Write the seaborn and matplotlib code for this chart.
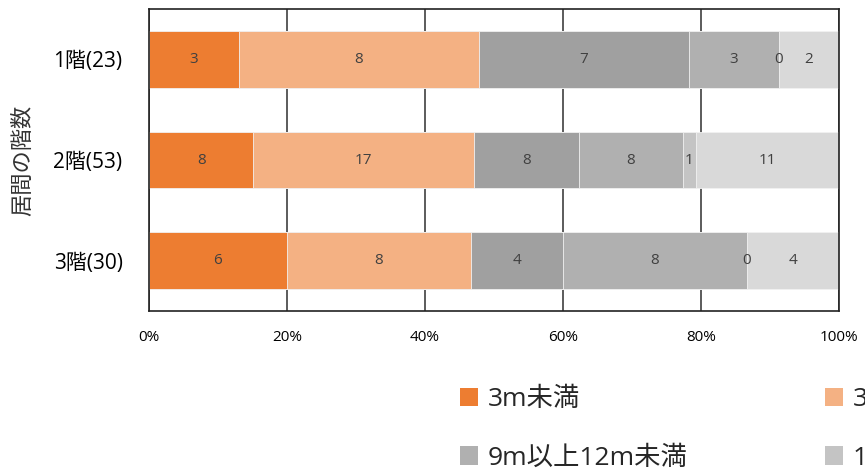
import numpy as np
import pandas as pd
import matplotlib
matplotlib.use("Agg")
import matplotlib.pyplot as plt
import seaborn as sns
from matplotlib.patches import Patch

categories = ["1階(23)", "2階(53)", "3階(30)"]
series_names = ["3m未満", "3m以上6m未満", "6m以上9m未満", "9m以上12m未満", "12m以上15m未満", "15m以上"]
v_3m = [3, 8, 6]
v_3_6 = [8, 17, 8]
v_6_9 = [7, 8, 4]
v_9_12 = [3, 8, 8]
v_12_15 = [0, 1, 0]
v_15 = [2, 11, 4]
colors = ["#ED7D31", "#F4B183", "#A0A0A0", "#B0B0B0", "#C4C4C4", "#D9D9D9"]

series = [v_3m, v_3_6, v_6_9, v_9_12, v_12_15, v_15]
vals = np.array(series, dtype=float)
totals = vals.sum(axis=0)
pct = vals / totals * 100
cum = np.cumsum(pct, axis=0)

sns.set_theme(style="white")
plt.rcParams["font.family"] = ["Open Sans", "Noto Sans CJK JP", "DejaVu Sans"]

fig = plt.figure(figsize=(8.65, 4.71), dpi=100)
ax = fig.add_axes([149/865, 1 - 311/471, (839-149)/865, (311-9)/471])

for i in range(len(series) - 1, -1, -1):
    df = pd.DataFrame({"cat": categories, "v": cum[i]})
    sns.barplot(data=df, x="v", y="cat", orient="h", color=colors[i],
                width=0.56, saturation=1, ax=ax, order=categories,
                edgecolor="#F2F2F2", linewidth=0.6)

for i in range(len(series)):
    for j in range(len(categories)):
        ax.text(cum[i][j] - pct[i][j] / 2, j, f"{int(vals[i][j])}",
                ha="center", va="center", fontsize=11, color="#404040",
                family=["Open Sans", "DejaVu Sans"])

ax.set_xlim(0, 100)
ax.set_ylim(2.5, -0.5)
ax.set_xticks([0, 20, 40, 60, 80, 100])
ax.set_xticklabels(["0%", "20%", "40%", "60%", "80%", "100%"], fontsize=11, color="black")
ax.tick_params(axis="x", pad=14, length=0)
ax.tick_params(axis="y", labelsize=15, length=0, pad=19, labelcolor="black")
for t in ax.get_yticklabels():
    t.set_family(["Open Sans", "Noto Sans CJK JP", "DejaVu Sans"])
ax.set_xlabel("")
ax.set_ylabel("居間の階数", fontsize=16, family=["Noto Sans CJK JP"], color="#333333", labelpad=14)
ax.grid(axis="x", color="#404040", linewidth=1.2)
ax.set_axisbelow(True)
for s in ax.spines.values():
    s.set_visible(True)
    s.set_color("#222222")
    s.set_linewidth(1.2)

handles = [Patch(facecolor=c, edgecolor="none") for c in colors]
order = [0, 3, 1, 4, 2, 5]
leg = fig.legend([handles[k] for k in order], [series_names[k] for k in order],
                 loc="upper left", bbox_to_anchor=(460/865, 1 - 387/471), ncol=3,
                 frameon=False, handlelength=0.7, handleheight=0.7,
                 handletextpad=0.35, columnspacing=5.2, labelspacing=1.28,
                 borderpad=0, borderaxespad=0,
                 prop={"family": ["Open Sans", "Noto Sans CJK JP", "DejaVu Sans"], "size": 19})

fig.savefig("out.png", dpi=100)
